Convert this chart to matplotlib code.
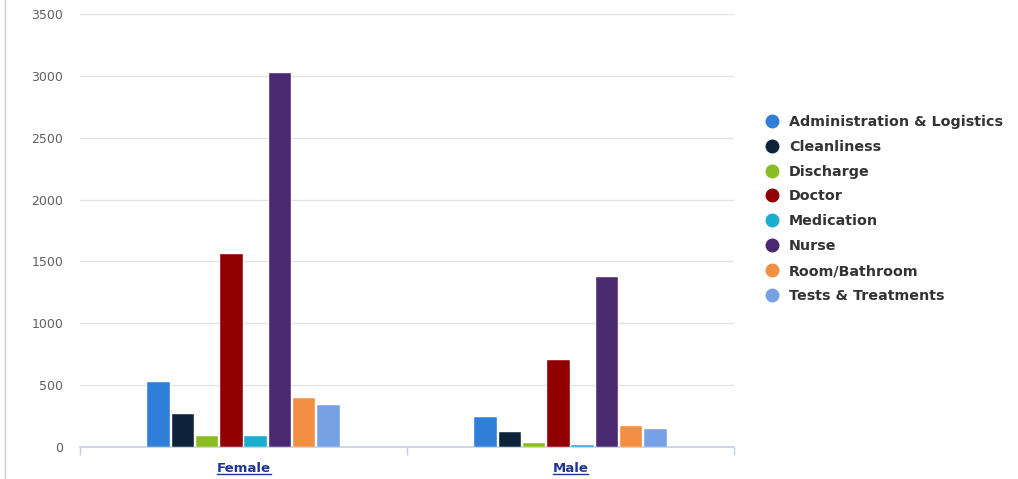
import matplotlib
matplotlib.use("Agg")
import matplotlib.pyplot as plt
from matplotlib.lines import Line2D
import numpy as np

categories = ["Female", "Male"]
series_names = [
    "Administration & Logistics",
    "Cleanliness",
    "Discharge",
    "Doctor",
    "Medication",
    "Nurse",
    "Room/Bathroom",
    "Tests & Treatments",
]
female_values = [524, 266, 92, 1557, 89, 3024, 395, 339]
male_values = [242, 121, 32, 706, 16, 1371, 169, 145]
series_colors = ["#2f7ed8", "#0d233a", "#8bbc21", "#910000",
                 "#1aadce", "#492970", "#f28f43", "#77a1e5"]
y_ticks = [0, 500, 1000, 1500, 2000, 2500, 3000, 3500]

fig = plt.figure(figsize=(10.18, 4.79), dpi=100)
fig.patch.set_facecolor("white")
ax = fig.add_axes([80 / 1018, 1 - 447 / 479, 654 / 1018, 433 / 479])

x = np.arange(len(categories))
n = len(series_names)
slot = 0.0742
bar_w = 0.069
values = np.array([female_values, male_values]).T  # rows: series

for i, (name, col) in enumerate(zip(series_names, series_colors)):
    offs = (i - (n - 1) / 2) * slot
    ax.bar(x + offs, values[i], width=bar_w, color=col, label=name,
           edgecolor="white", linewidth=0.3, zorder=3)

ax.set_xlim(-0.5, 1.5)
ax.set_ylim(0, 3500)
ax.set_yticks(y_ticks)
ax.set_yticklabels([str(v) for v in y_ticks])
ax.yaxis.grid(True, color="#e4e4e4", linewidth=1, zorder=0)
ax.tick_params(axis="y", length=0, pad=12, labelsize=9, labelcolor="#606060")

ax.set_xticks(x)
ax.set_xticklabels(categories, fontsize=9.5, fontweight="bold", color="#1f3590")
ax.tick_params(axis="x", length=0, pad=10.5)
ax.set_xticks([-0.5, 0.5, 1.5], minor=True)
ax.tick_params(axis="x", which="minor", length=6, color="#c0d0e0", width=1)

for s in ["top", "right", "left"]:
    ax.spines[s].set_visible(False)
ax.spines["bottom"].set_color("#c0d0e0")
ax.spines["bottom"].set_linewidth(1.2)
ax.set_facecolor("white")

# Legend with round markers
handles = [Line2D([0], [0], marker="o", linestyle="none", markersize=9,
                  markerfacecolor=c, markeredgecolor=c) for c in series_colors]
leg = fig.legend(handles, series_names, loc="upper left",
                 bbox_to_anchor=(751 / 1018, 1 - 102 / 479),
                 frameon=False, handletextpad=0.55, labelspacing=0.76,
                 prop={"size": 10.3, "weight": "bold"}, handlelength=1.2)
for t in leg.get_texts():
    t.set_color("#333333")

# Left border line of the panel
fig.add_artist(Line2D([5 / 1018, 5 / 1018], [0, 1], color="#cccccc",
                      linewidth=1, transform=fig.transFigure))

# Underline the category labels
fig.canvas.draw()
renderer = fig.canvas.get_renderer()
for lbl in ax.get_xticklabels():
    bb = lbl.get_window_extent(renderer)
    inv = fig.transFigure.inverted()
    (x0, y0) = inv.transform((bb.x0, bb.y0 + 1))
    (x1, _) = inv.transform((bb.x1, bb.y0 + 1))
    fig.add_artist(Line2D([x0, x1], [y0, y0], color="#1f3590",
                          linewidth=1, transform=fig.transFigure))

fig.savefig("out.png", dpi=100, facecolor="white")
